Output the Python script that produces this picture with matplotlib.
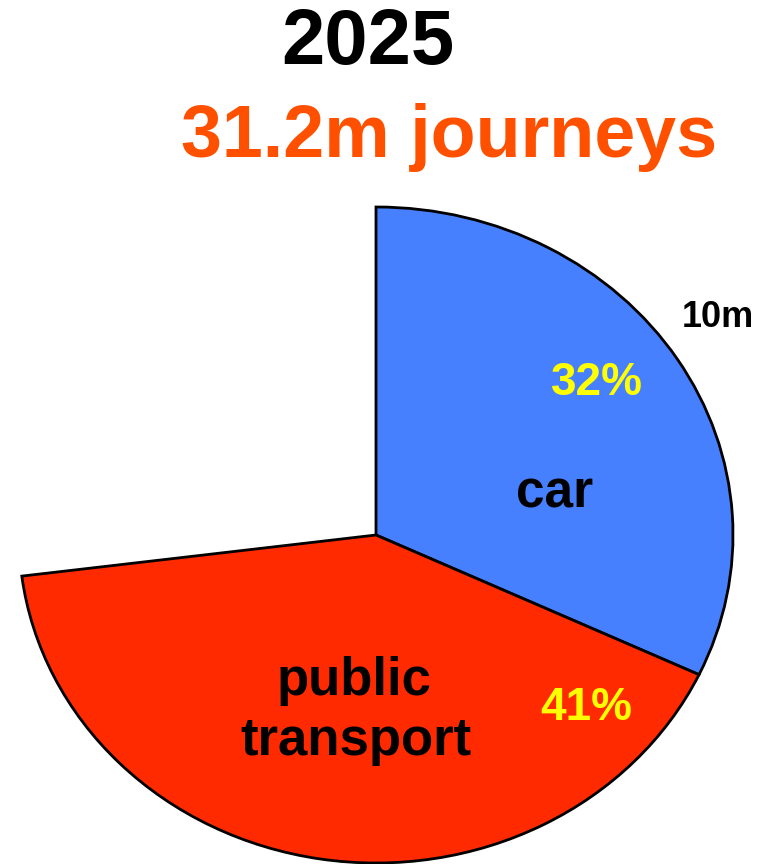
import matplotlib
matplotlib.use("Agg")
import matplotlib.pyplot as plt

# Data
categories = ["car", "public transport", "other"]
shares = [32, 41, 27]
pct_labels = ["32%", "41%"]
volume_label = "10m"
year_title = "2025"
total_title = "31.2m journeys"

colors = ["#4680FF", "#FF2A00", "white"]

plt.rcParams['font.family'] = ['Liberation Sans', 'DejaVu Sans']
plt.rcParams['font.weight'] = 'bold'

fig = plt.figure(figsize=(7.75, 8.64), dpi=100)
fig.patch.set_facecolor('white')

# axes sized so the pie is slightly elliptical as in the reference
ax = fig.add_axes([19/775, 1/864, 714/775, 656/864])
wedges, _ = ax.pie(shares, colors=colors, startangle=90, counterclock=False,
                   radius=1.0, wedgeprops=dict(edgecolor='black', linewidth=2.0))
wedges[2].set_visible(False)
ax.set_aspect('auto')
ax.set_xlim(-1, 1)
ax.set_ylim(-1, 1)
ax.axis('off')

# labels inside / around the pie
ax.text(0.958, 0.634, volume_label, ha='center', va='baseline', fontsize=26,
        color='black', fontweight='bold')
ax.text(0.619, 0.427, pct_labels[0], ha='center', va='baseline', fontsize=33,
        color='#FFFF00', fontweight='bold')
ax.text(0.501, 0.085, categories[0], ha='center', va='baseline', fontsize=37,
        color='black', fontweight='bold')
pt_lines = ["public", "transport"]
ax.text(-0.062, (535-695)/328, pt_lines[0], ha='center', va='baseline', fontsize=38,
        color='black', fontweight='bold')
ax.text(-0.056, (535-755)/328, pt_lines[1], ha='center', va='baseline', fontsize=38,
        color='black', fontweight='bold')
ax.text(0.588, -0.564, pct_labels[1], ha='center', va='baseline', fontsize=33,
        color='#FFFF00', fontweight='bold')

# titles
fig.text(368/775, 1-64/864, year_title, ha='center', va='baseline', fontsize=56,
         color='black', fontweight='bold')
fig.text(449/775, 1-157/864, total_title, ha='center', va='baseline', fontsize=53,
         color='#FF5000', fontweight='bold')

fig.savefig("out.png", dpi=100, facecolor='white')
